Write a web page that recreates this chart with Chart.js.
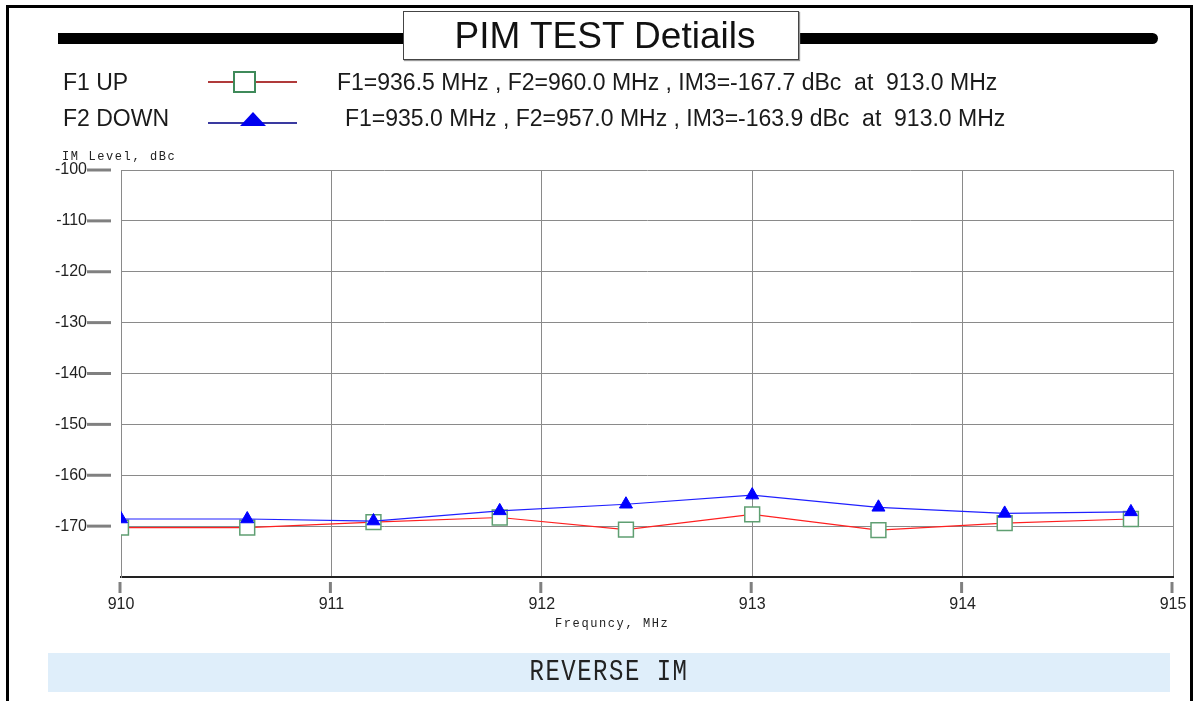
<!DOCTYPE html>
<html>
<head>
<meta charset="utf-8">
<script src="https://cdn.jsdelivr.net/npm/chart.js@4.4.0/dist/chart.umd.min.js"></script>
<style>
  html, body { margin: 0; padding: 0; background: #fff; }
  body { width: 1202px; height: 701px; position: relative; overflow: hidden;
         font-family: Arial, "Liberation Sans", sans-serif; color: #111; }
  #c { position: absolute; left: 0; top: 0; z-index: 1; }
  .abs { position: absolute; z-index: 2; white-space: nowrap; }
  #frame { position: absolute; left: 6px; top: 5px; width: 1181px; height: 760px;
           border: 3px solid #000; border-bottom: none; z-index: 0; }
  #bar { left: 58px; top: 33px; width: 1100px; height: 11px; background: #000;
         border-radius: 0 6px 6px 0; }
  #titleBox { left: 403px; top: 11px; width: 386px; height: 47px; padding-left: 8px; background: #fff;
              border: 1px solid #444; box-shadow: 1px 1px 1px #999;
              font-size: 37px; line-height: 48px; text-align: center; z-index: 3; }
  .leg { font-size: 23px; line-height: 26px; color: #1a1a1a; }
  .mono { font-family: "Liberation Mono", "Courier New", monospace; font-size: 12px;
          letter-spacing: 1.6px; color: #222; }
  #banner { left: 48px; top: 653px; width: 1122px; height: 39px; background: #dfeefa; }
  #banner span { display: block; text-align: center; font-family: "Liberation Mono", monospace;
                 font-size: 24px; letter-spacing: 1.5px; line-height: 39px; color: #222;
                 transform: scaleY(1.2); }
</style>
</head>
<body>
<div id="frame"></div>
<div id="bar" class="abs"></div>
<div id="titleBox" class="abs">PIM TEST Detiails</div>

<div class="abs leg" style="left:63px; top:69px;">F1 UP</div>
<svg class="abs" style="left:205px; top:69px;" width="96" height="26">
  <line x1="3" y1="13" x2="92" y2="13" stroke="#b03a3a" stroke-width="2"/>
  <rect x="29" y="3" width="21" height="20" fill="#fff" stroke="#3f8a5a" stroke-width="2"/>
</svg>
<div class="abs leg" style="left:337px; top:69px;">F1=936.5 MHz , F2=960.0 MHz , IM3=-167.7 dBc&nbsp; at&nbsp; 913.0 MHz</div>

<div class="abs leg" style="left:63px; top:105px;">F2 DOWN</div>
<svg class="abs" style="left:205px; top:105px;" width="96" height="26">
  <line x1="3" y1="18" x2="92" y2="18" stroke="#3a3aa0" stroke-width="2"/>
  <polygon points="35,21 61,21 48,7" fill="#0000f0"/>
</svg>
<div class="abs leg" style="left:345px; top:105px;">F1=935.0 MHz , F2=957.0 MHz , IM3=-163.9 dBc&nbsp; at&nbsp; 913.0 MHz</div>

<div class="abs mono" style="left:62px; top:150px;">IM Level, dBc</div>
<div class="abs mono" style="left:555px; top:617px;">Frequncy, MHz</div>

<div id="banner" class="abs"><span>REVERSE IM</span></div>

<canvas id="c" width="1202" height="701" style="width:1202px;height:701px;"></canvas>

<script>
// frequency points, MHz
const freqMHz = [910.0, 910.6, 911.2, 911.8, 912.4, 913.0, 913.6, 914.2, 914.8];
// IM level, dBc
const f1Up   = [-170.3, -170.3, -169.2, -168.3, -170.7, -167.7, -170.8, -169.4, -168.6];
const f2Down = [-168.6, -168.6, -169.0, -167.0, -165.7, -163.9, -166.3, -167.5, -167.2];
// axis ticks
const xTicks = [910, 911, 912, 913, 914, 915];
const yTicks = [-100, -110, -120, -130, -140, -150, -160, -170];
const yGrid  = [-100, -110, -120, -130, -140, -150, -160, -170, -180];

const points = arr => freqMHz.map((f, i) => ({ x: f, y: arr[i] }));

// thick grey tick marks, detached from the axis lines
const tickMarks = {
  id: 'tickMarks',
  afterDraw(chart) {
    const { ctx, chartArea: a, scales: { x, y } } = chart;
    ctx.save();
    ctx.strokeStyle = '#808080';
    ctx.lineWidth = 3;
    yTicks.forEach(v => {
      const py = y.getPixelForValue(v);
      ctx.beginPath();
      ctx.moveTo(a.left - 34, py);
      ctx.lineTo(a.left - 10, py);
      ctx.stroke();
    });
    xTicks.forEach(v => {
      const px = x.getPixelForValue(v) - 1;
      ctx.beginPath();
      ctx.moveTo(px, a.bottom + 5);
      ctx.lineTo(px, a.bottom + 16);
      ctx.stroke();
    });
    ctx.restore();
  }
};

new Chart(document.getElementById('c').getContext('2d'), {
  type: 'line',
  data: {
    datasets: [
      {
        label: 'F2 DOWN',
        data: points(f2Down),
        borderColor: '#2020ff',
        borderWidth: 1.2,
        pointStyle: 'triangle',
        pointRadius: 7.5,
        pointBackgroundColor: '#0000ff',
        pointBorderColor: '#0000ff',
        pointBorderWidth: 1,
        clip: 0,
        order: 0
      },
      {
        label: 'F1 UP',
        data: points(f1Up),
        borderColor: '#ff2020',
        borderWidth: 1.2,
        pointStyle: 'rect',
        pointRadius: 10.5,
        pointBackgroundColor: '#ffffff',
        pointBorderColor: '#5f9f72',
        pointBorderWidth: 1.5,
        clip: 0,
        order: 1
      }
    ]
  },
  options: {
    responsive: false,
    animation: false,
    devicePixelRatio: 1,
    layout: { padding: { left: 31, right: 29, top: 170, bottom: 84 } },
    plugins: { legend: { display: false }, tooltip: { enabled: false } },
    scales: {
      x: {
        type: 'linear',
        min: 910,
        max: 915,
        afterBuildTicks: s => { s.ticks = xTicks.map(v => ({ value: v })); },
        afterFit: s => { s.height = 40; s.paddingLeft = 0; s.paddingRight = 0; },
        grid: { color: '#8a8a8a', lineWidth: 1, drawTicks: false },
        border: { color: '#222', width: 2 },
        ticks: { padding: 18, maxRotation: 0, color: '#222',
                 font: { family: 'Arial', size: 16 } }
      },
      y: {
        min: -180,
        max: -100,
        afterBuildTicks: s => { s.ticks = yGrid.map(v => ({ value: v })); },
        afterFit: s => { s.width = 90; s.paddingTop = 0; s.paddingBottom = 0; },
        grid: { color: '#8a8a8a', lineWidth: 1, drawTicks: false },
        border: { color: '#8a8a8a', width: 1 },
        ticks: { padding: 34, color: '#222', font: { family: 'Arial', size: 16 },
                 callback: v => yTicks.includes(v) ? String(v) : '' }
      }
    }
  },
  plugins: [tickMarks]
});
</script>
</body>
</html>
